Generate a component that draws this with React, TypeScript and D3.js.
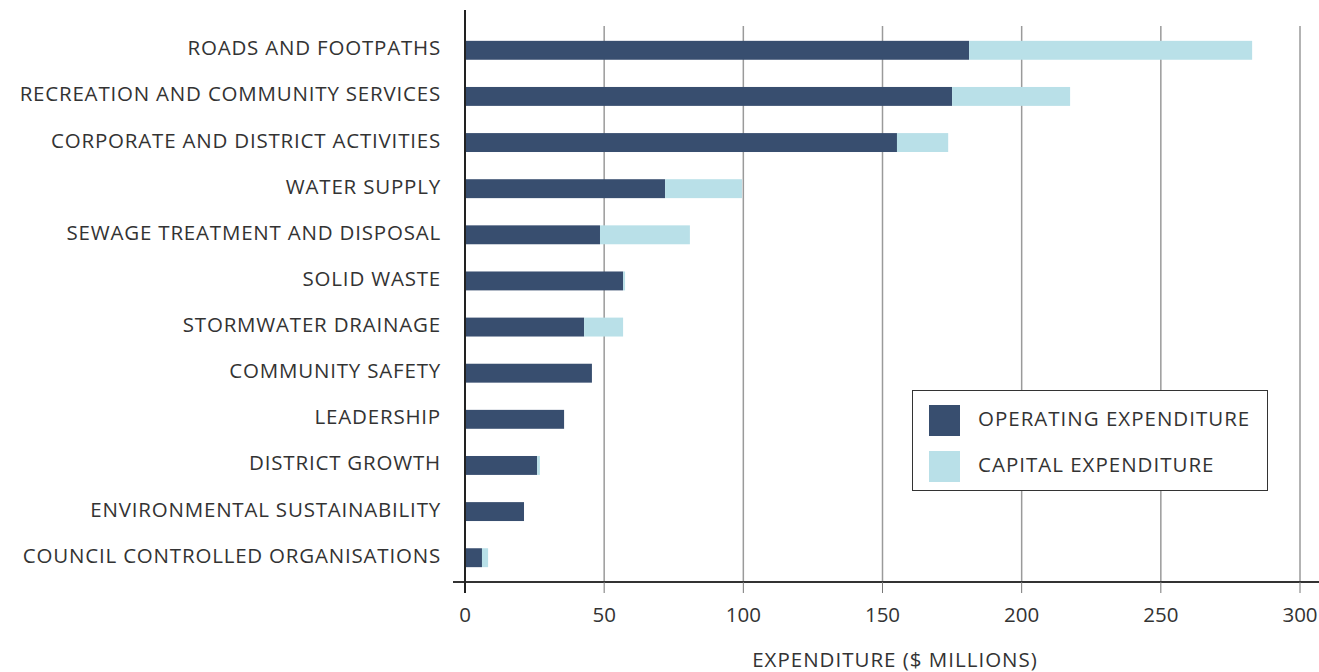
import * as d3 from 'd3';

const categories = [
  'ROADS AND FOOTPATHS',
  'RECREATION AND COMMUNITY SERVICES',
  'CORPORATE AND DISTRICT ACTIVITIES',
  'WATER SUPPLY',
  'SEWAGE TREATMENT AND DISPOSAL',
  'SOLID WASTE',
  'STORMWATER DRAINAGE',
  'COMMUNITY SAFETY',
  'LEADERSHIP',
  'DISTRICT GROWTH',
  'ENVIRONMENTAL SUSTAINABILITY',
  'COUNCIL CONTROLLED ORGANISATIONS',
];

const operating = [181.1, 175, 155.2, 71.9, 48.5, 56.8, 42.8, 45.6, 35.6, 25.9, 21.2, 6.1];
const capital = [101.7, 42.4, 18.4, 27.6, 32.3, 0.7, 14, 0, 0, 1, 0, 2.2];

const xTicks = [0, 50, 100, 150, 200, 250, 300];
const legendItems = ['OPERATING EXPENDITURE', 'CAPITAL EXPENDITURE'];
const axisTitle = 'EXPENDITURE ($ MILLIONS)';

const W = 1319;
const H = 672;
const DARK = '#384e6f';
const LIGHT = '#b9e0e8';
const TEXT = '#333333';
const FONT = '"Open Sans", sans-serif';
const FS = 20.5;

export default function App() {
  const x = d3.scaleLinear().domain([0, 300]).range([465, 1300]);
  const y = d3.scaleBand<string>().domain(categories).range([27, 581]).paddingInner(0.59).paddingOuter(0.3);
  const colors = d3.scaleOrdinal<string, string>().domain(legendItems).range([DARK, LIGHT]);

  return (
    <svg
      width={W}
      height={H}
      style={{ position: 'absolute', left: 0, top: 0, background: '#fff' }}
      fontFamily={FONT}
    >
      {/* gridlines */}
      {xTicks.slice(1).map((t) => (
        <line key={t} x1={x(t)} x2={x(t)} y1={26} y2={582} stroke="#9a9a9a" strokeWidth={1.5} />
      ))}

      {/* bars */}
      {categories.map((c, i) => (
        <g key={c}>
          <rect x={x(0)} y={y(c)} width={x(operating[i]) - x(0)} height={y.bandwidth()} fill={DARK} />
          {capital[i] > 0 && (
            <rect
              x={x(operating[i])}
              y={y(c)}
              width={x(operating[i] + capital[i]) - x(operating[i])}
              height={y.bandwidth()}
              fill={LIGHT}
            />
          )}
          <text
            x={441}
            y={(y(c) ?? 0) + y.bandwidth() / 2 + 5}
            textAnchor="end"
            fontSize={FS}
            fill={TEXT}
            letterSpacing={0.8}
          >
            {c}
          </text>
        </g>
      ))}

      {/* axes */}
      <line x1={453} x2={W} y1={582} y2={582} stroke="#333" strokeWidth={2} />
      {xTicks.map((t) => (
        <g key={t}>
          <line x1={x(t)} x2={x(t)} y1={582} y2={593} stroke="#777" strokeWidth={1} />
          <text x={x(t)} y={622} textAnchor="middle" fontSize={FS} fill={TEXT}>
            {t}
          </text>
        </g>
      ))}
      <line x1={465} x2={465} y1={10} y2={593} stroke="#222" strokeWidth={2} />
      <text x={895} y={667} textAnchor="middle" fontSize={FS} fill={TEXT} letterSpacing={1}>
        {axisTitle}
      </text>

      {/* legend */}
      <rect x={912.5} y={390.5} width={355} height={100} fill="#fff" stroke="#333" strokeWidth={1} />
      {legendItems.map((l, i) => (
        <g key={l}>
          <rect x={929} y={405 + i * 46} width={31} height={31} fill={colors(l)} />
          <text x={978} y={425.5 + i * 46} fontSize={FS} fill={TEXT} letterSpacing={1}>
            {l}
          </text>
        </g>
      ))}
    </svg>
  );
}
